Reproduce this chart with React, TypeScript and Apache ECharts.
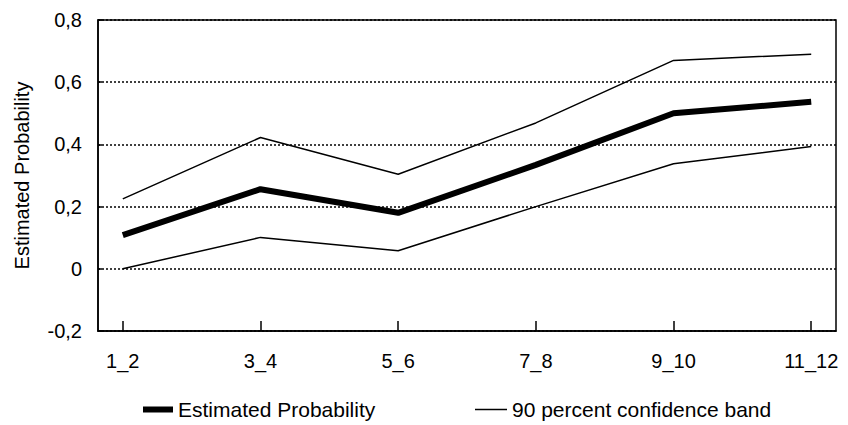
import React, { useEffect, useRef } from "react";
import * as echarts from "echarts";

const categories = ["1_2", "3_4", "5_6", "7_8", "9_10", "11_12"];
const estimated = [0.108, 0.256, 0.18, 0.334, 0.5, 0.537];
const upperBand = [0.225, 0.422, 0.304, 0.469, 0.67, 0.69];
const lowerBand = [0.0, 0.101, 0.058, 0.2, 0.338, 0.393];
const yTicks = [-0.2, 0, 0.2, 0.4, 0.6, 0.8];

const FONT = "'Liberation Sans', Arial, sans-serif";
const FS = 20;

export default function App() {
  const ref = useRef<HTMLDivElement>(null);
  useEffect(() => {
    if (!ref.current) return;
    const chart = echarts.init(ref.current, undefined, { renderer: "svg" });
    const toPairs = (arr: number[]) => arr.map((v, i) => [i, v]);
    const idx = categories.map((_, i) => i);
    chart.setOption({
      animation: false,
      backgroundColor: "#fff",
      textStyle: { fontFamily: FONT, color: "#000" },
      grid: {
        left: 98,
        right: 12,
        top: 20,
        bottom: 94,
        show: true,
        borderColor: "#000",
        borderWidth: 1.5,
      },
      legend: [
        {
          data: ["Estimated Probability"],
          left: 138,
          top: 394,
          icon: "rect",
          itemWidth: 30,
          itemHeight: 6,
          textStyle: { fontFamily: FONT, fontSize: 21, color: "#000" },
        },
        {
          data: ["90 percent confidence band"],
          left: 470,
          top: 394,
          icon: "rect",
          itemWidth: 32,
          itemHeight: 1.5,
          textStyle: { fontFamily: FONT, fontSize: 21, color: "#000" },
        },
      ],
      xAxis: {
        type: "value",
        min: -0.18,
        max: 5.18,
        axisLine: { show: true, onZero: false, lineStyle: { color: "#000", width: 1.5 } },
        axisTick: {
          show: true,
          inside: true,
          length: 10,
          customValues: idx,
          lineStyle: { color: "#000", width: 1.5 },
        },
        axisLabel: {
          customValues: idx,
          formatter: (v: number) => categories[Math.round(v)] ?? "",
          fontFamily: FONT,
          fontSize: FS,
          color: "#000",
          margin: 20,
        },
        splitLine: { show: false },
      },
      yAxis: {
        type: "value",
        min: -0.2,
        max: 0.8,
        interval: 0.2,
        name: "Estimated Probability",
        nameLocation: "middle",
        nameGap: 66,
        nameTextStyle: { fontFamily: FONT, fontSize: FS, color: "#000" },
        axisLine: { show: true, onZero: false, lineStyle: { color: "#000", width: 1.5 } },
        axisTick: {
          show: true,
          inside: true,
          length: 4,
          lineStyle: { color: "#000", width: 1.5 },
        },
        axisLabel: {
          fontFamily: FONT,
          fontSize: FS,
          color: "#000",
          margin: 16,
          formatter: (v: number) => {
            const t = yTicks.find((x) => Math.abs(x - v) < 1e-6) ?? v;
            return Number(t.toFixed(1)).toString().replace(".", ",");
          },
        },
        splitLine: {
          show: true,
          lineStyle: { color: "#000", width: 1.5, type: [2, 2] },
        },
      },
      series: [
        {
          name: "Estimated Probability",
          type: "line",
          data: toPairs(estimated),
          symbol: "none",
          lineStyle: { color: "#000", width: 6 },
          itemStyle: { color: "#000" },
          z: 3,
        },
        {
          name: "90 percent confidence band",
          type: "line",
          data: toPairs(upperBand),
          symbol: "none",
          lineStyle: { color: "#000", width: 1.5 },
          itemStyle: { color: "#000" },
        },
        {
          name: "90 percent confidence band",
          type: "line",
          data: toPairs(lowerBand),
          symbol: "none",
          lineStyle: { color: "#000", width: 1.5 },
          itemStyle: { color: "#000" },
        },
      ],
    });
    return () => chart.dispose();
  }, []);
  return (
    <div
      ref={ref}
      style={{ position: "absolute", left: 0, top: 0, width: 848, height: 425 }}
    />
  );
}
